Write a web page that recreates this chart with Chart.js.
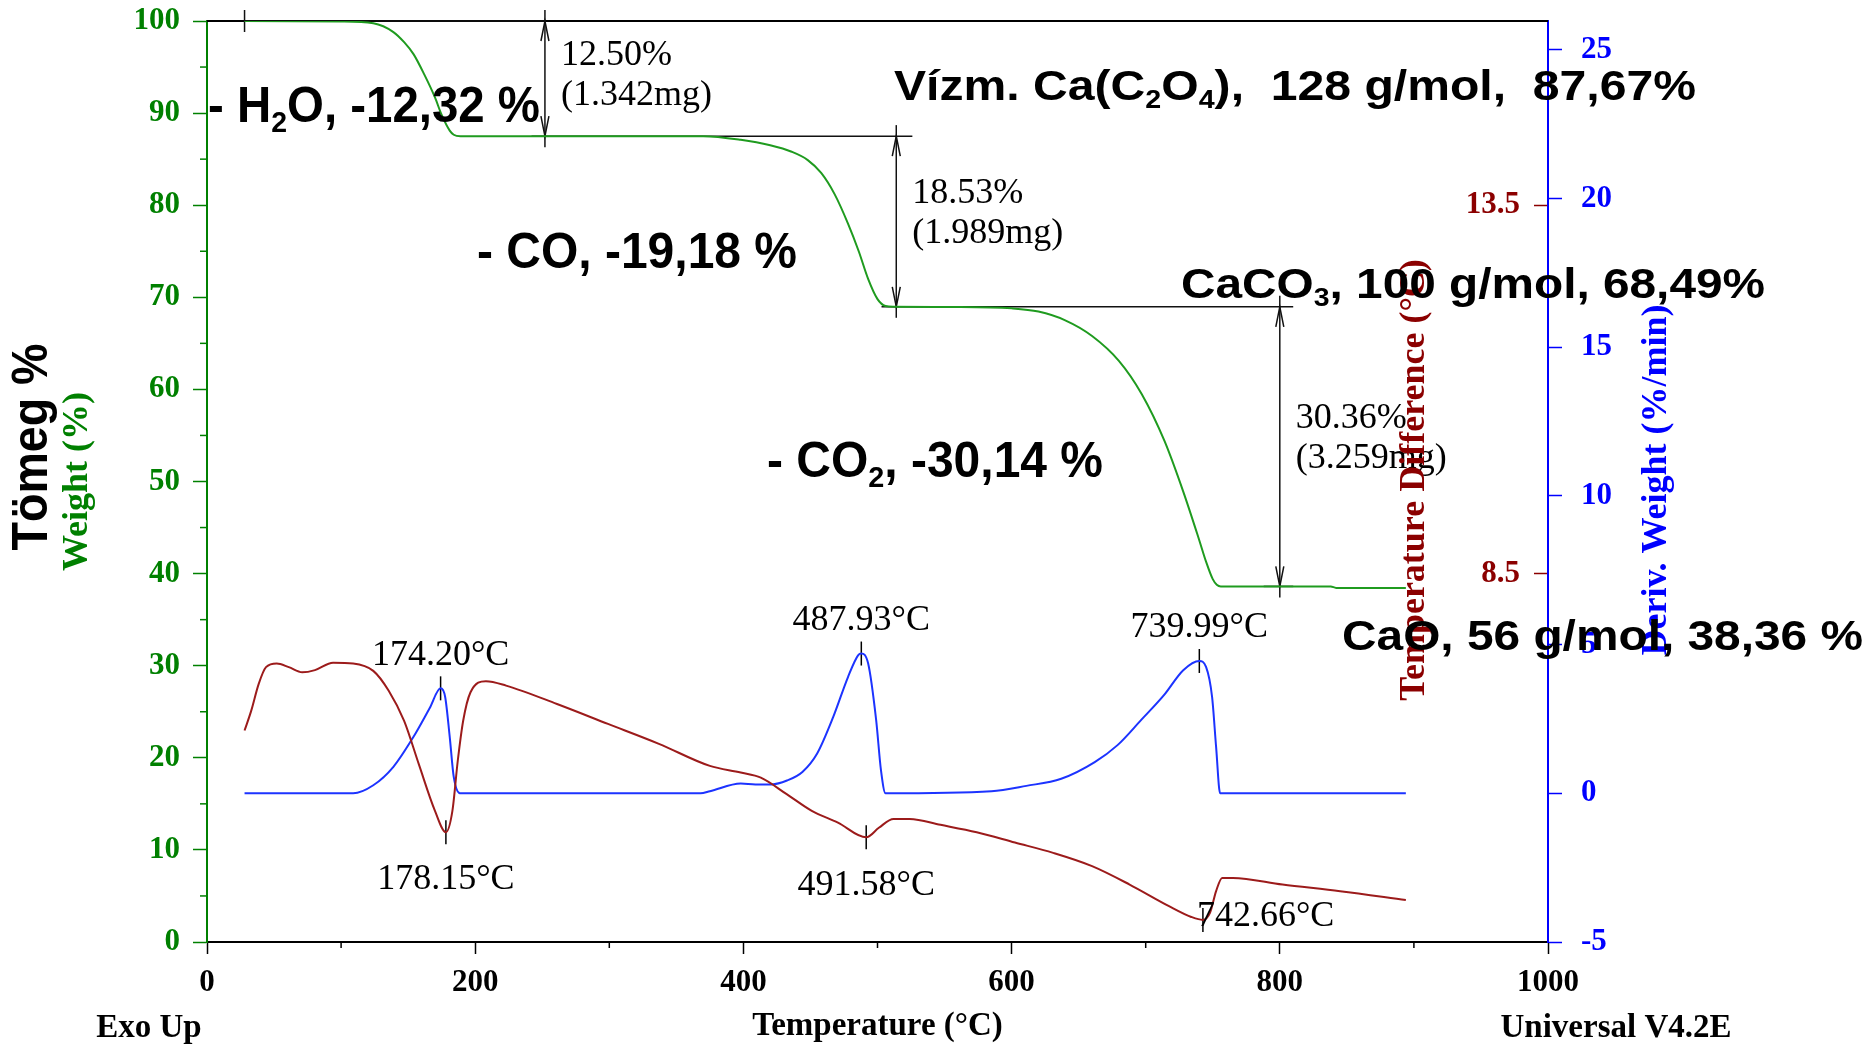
<!DOCTYPE html>
<html>
<head>
<meta charset="utf-8">
<script src="https://cdn.jsdelivr.net/npm/chart.js@4.4.1/dist/chart.umd.min.js"></script>
<style>
  html, body { margin: 0; padding: 0; background: #fff; }
</style>
</head>
<body>
<canvas id="chart" width="1870" height="1046"></canvas>
<script>
const GREEN = "#008000";
const GREEN_LINE = "#1f9b1f";
const RED = "#8b0000";
const RED_LINE = "#9c1b1b";
const BLUE = "#0000ff";
const BLUE_LINE = "#1c33ff";
const SERIF = "'Liberation Serif', 'Times New Roman', serif";
const SANS = "'Liberation Sans', Arial, sans-serif";

// TGA: temperature (°C) / weight (%)
const tgaTemp = [28, 100, 124, 139, 147, 154, 162, 170, 175, 181, 184, 189, 250, 370, 398, 420, 436, 448, 458, 468,
  478, 486, 493, 500, 506, 512, 560, 600, 620, 640, 660, 680, 697, 714, 728, 740, 745, 750, 753, 756, 838, 842, 894];
const tgaWeight = [100, 99.95, 99.75, 98.8, 97.7, 96.4, 94.2, 91.7, 89.8, 88.1, 87.65, 87.5, 87.5, 87.5, 87.1, 86.5, 85.8, 84.9, 83.5, 81.2,
  78.0, 75.0, 72.0, 69.8, 69.05, 68.97, 68.95, 68.8, 68.45, 67.5, 65.8, 63.1, 59.5, 54.4, 48.9, 43.6, 41.3, 39.4, 38.8, 38.61, 38.6, 38.45, 38.45];

// DTG: temperature (°C) / deriv. weight (%/min)
const dtgTemp = [28, 109, 124, 139, 154, 166, 174.2, 177.6, 181, 184, 188.6, 368, 375, 398, 409, 421, 432.5, 444, 455, 467,
  478, 485.5, 487.93, 493, 499, 502.6, 506, 585, 611, 637, 662, 679, 696.5, 713.6, 728, 739.99, 745, 749.5, 752.5, 755.5, 894];
const dtgRate = [0, 0, 0.27, 0.89, 1.9, 2.86, 3.53, 3.24, 1.9, 0.55, 0, 0, 0.07, 0.33, 0.3, 0.3, 0.43, 0.72, 1.34, 2.57,
  3.91, 4.64, 4.7, 4.37, 2.46, 0.77, 0, 0.07, 0.25, 0.49, 1.05, 1.62, 2.46, 3.3, 4.14, 4.45, 4.25, 3.24, 1.56, 0, 0];

// DTA: temperature (°C) / temperature difference (°C)
const dtaTemp = [28, 33, 38.5, 44, 52, 61, 71, 80.5, 94, 109, 124, 135.5, 147, 158, 170, 178.15, 183, 187, 191, 196.5,
  208, 223, 261, 299, 337, 375, 398, 413, 432, 451, 470.5, 491.58, 501, 512, 524, 547, 574, 602.5, 631, 660,
  688, 717, 734, 742.66, 748, 752.5, 757, 765, 802, 845, 894];
const dtaDiff = [6.37, 6.64, 7.0, 7.23, 7.28, 7.23, 7.16, 7.19, 7.29, 7.28, 7.18, 6.91, 6.5, 5.91, 5.28, 4.99, 5.28, 5.96, 6.5, 6.89,
  7.04, 6.98, 6.73, 6.46, 6.19, 5.89, 5.8, 5.73, 5.51, 5.28, 5.12, 4.92, 5.05, 5.17, 5.17, 5.09, 4.99, 4.85, 4.71, 4.53,
  4.28, 3.99, 3.84, 3.8, 3.9, 4.19, 4.37, 4.37, 4.28, 4.19, 4.07];

const xTicks = [0, 200, 400, 600, 800, 1000];
const xMinor = [100, 300, 500, 700, 900];
const weightMinor = [5, 15, 25, 35, 45, 55, 65, 75, 85, 95];
const dtaTicks = [8.5, 13.5];
const dtgTicks = [-5, 0, 5, 10, 15, 20, 25];

const dtgPeaks = [174.2, 487.93, 739.99];
const dtaPeaks = [178.15, 491.58, 742.66];

// step analysis: plateau levels (%), arrow positions and line spans (°C), lost mass (mg)
const stepLevels = [100, 87.5, 68.97, 38.61];
const stepArrowTemp = [252, 514, 800];
const stepLineFrom = [28, 242, 503, 788];
const stepLineTo = [252, 526, 810, 810];
const stepMass = [1.342, 1.989, 3.259];

const pairs = (xs, ys) => xs.map((x, i) => ({ x, y: ys[i] }));
const atPeak = (temps, xs, ys) => temps.map((t) => ({ x: t, y: ys[xs.indexOf(t)] }));

function strokeLine(ctx, x1, y1, x2, y2) {
  ctx.beginPath();
  ctx.moveTo(x1, y1);
  ctx.lineTo(x2, y2);
  ctx.stroke();
}

// bold sans text, odd parts are subscripts, squeezed/stretched to a given width
function richText(ctx, parts, x, y, size, width) {
  const big = `bold ${size}px ${SANS}`;
  const small = `bold ${Math.round(size * 0.6)}px ${SANS}`;
  ctx.save();
  ctx.textAlign = "left";
  ctx.textBaseline = "alphabetic";
  ctx.fillStyle = "#000";
  let natural = 0;
  parts.forEach((p, i) => {
    ctx.font = i % 2 ? small : big;
    natural += ctx.measureText(p).width;
  });
  ctx.translate(x, y);
  ctx.scale(width / natural, 1);
  let cx = 0;
  parts.forEach((p, i) => {
    ctx.font = i % 2 ? small : big;
    ctx.fillText(p, cx, i % 2 ? size * 0.2 : 0);
    cx += ctx.measureText(p).width;
  });
  ctx.restore();
}

function rotatedText(ctx, text, cx, cy, font, color, width) {
  ctx.save();
  ctx.translate(cx, cy);
  ctx.rotate(-Math.PI / 2);
  ctx.font = font;
  ctx.fillStyle = color;
  ctx.textAlign = "center";
  ctx.textBaseline = "middle";
  if (width) ctx.scale(width / ctx.measureText(text).width, 1);
  ctx.fillText(text, 0, 0);
  ctx.restore();
}

const notes = [
  { parts: ["- H", "2", "O, -12,32 %"], x: 208, y: 122, size: 50, w: 332 },
  { parts: ["- CO, -19,18 %"], x: 477, y: 268, size: 50, w: 320 },
  { parts: ["- CO", "2", ", -30,14 %"], x: 767, y: 477, size: 50, w: 336 },
  { parts: ["Vízm. Ca(C", "2", "O", "4", "),  128 g/mol,  87,67%"], x: 894, y: 100, size: 42, w: 802 },
  { parts: ["CaCO", "3", ", 100 g/mol, 68,49%"], x: 1181, y: 298, size: 42, w: 584 },
  { parts: ["CaO, 56 g/mol, 38,36 %"], x: 1342, y: 650, size: 42, w: 521 },
];

const frameAndSteps = {
  id: "frameAndSteps",
  beforeDatasetsDraw(chart) {
    const { ctx, chartArea, scales: { x, y } } = chart;
    ctx.save();
    ctx.strokeStyle = "#000";
    ctx.lineWidth = 2;
    strokeLine(ctx, chartArea.left, chartArea.top, chartArea.right, chartArea.top);

    ctx.lineWidth = 1.5;
    ctx.strokeStyle = "#111";
    stepLevels.forEach((lv, i) => {
      const py = y.getPixelForValue(lv);
      strokeLine(ctx, x.getPixelForValue(stepLineFrom[i]), py, x.getPixelForValue(stepLineTo[i]), py);
    });
    const sx = x.getPixelForValue(stepLineFrom[0]);
    const sy = y.getPixelForValue(stepLevels[0]);
    strokeLine(ctx, sx, sy - 11, sx, sy + 11);

    stepArrowTemp.forEach((t, i) => {
      const px = x.getPixelForValue(t);
      const top = y.getPixelForValue(stepLevels[i]);
      const bot = y.getPixelForValue(stepLevels[i + 1]);
      strokeLine(ctx, px, top - 11, px, bot + 11);
      ctx.beginPath();
      ctx.moveTo(px - 4, top + 20);
      ctx.lineTo(px, top);
      ctx.lineTo(px + 4, top + 20);
      ctx.moveTo(px - 4, bot - 20);
      ctx.lineTo(px, bot);
      ctx.lineTo(px + 4, bot - 20);
      ctx.stroke();
    });

    // minor ticks
    ctx.strokeStyle = "#000";
    xMinor.forEach((v) => {
      const px = x.getPixelForValue(v);
      strokeLine(ctx, px, x.top, px, x.top + 6);
    });
    ctx.strokeStyle = GREEN;
    weightMinor.forEach((v) => {
      const py = y.getPixelForValue(v);
      strokeLine(ctx, y.right - 7, py, y.right, py);
    });
    ctx.restore();
  },
  afterDraw(chart) {
    const { ctx, scales: { x, y, yB, yR } } = chart;
    ctx.save();
    ctx.fillStyle = "#000";
    ctx.font = `36px ${SERIF}`;
    ctx.textBaseline = "middle";

    // step values
    ctx.textAlign = "left";
    stepArrowTemp.forEach((t, i) => {
      const px = x.getPixelForValue(t) + 16;
      const top = y.getPixelForValue(stepLevels[i]);
      const mid = (top + y.getPixelForValue(stepLevels[i + 1])) / 2;
      const first = Math.max(mid - 28, top + 35);
      ctx.fillText(`${(stepLevels[i] - stepLevels[i + 1]).toFixed(2)}%`, px, first);
      ctx.fillText(`(${stepMass[i].toFixed(3)}mg)`, px, first + 40);
    });

    // peak temperatures
    ctx.textAlign = "center";
    atPeak(dtgPeaks, dtgTemp, dtgRate).forEach((p) => {
      ctx.fillText(`${p.x.toFixed(2)}°C`, x.getPixelForValue(p.x), yB.getPixelForValue(p.y) - 33);
    });
    const dtaPlace = [[0, 47, "center"], [0, 48, "center"], [-6, -3, "left"]];
    atPeak(dtaPeaks, dtaTemp, dtaDiff).forEach((p, i) => {
      const [dx, dy, align] = dtaPlace[i];
      ctx.textAlign = align;
      ctx.fillText(`${p.x.toFixed(2)}°C`, x.getPixelForValue(p.x) + dx, yR.getPixelForValue(p.y) + dy);
    });

    // footer labels
    ctx.font = `bold 33px ${SERIF}`;
    ctx.textAlign = "center";
    ctx.fillText("Exo Up", 149, 1028);
    ctx.fillText("Universal V4.2E", 1616, 1028);

    // axis titles drawn by hand (reading bottom to top)
    rotatedText(ctx, "Temperature Difference (°C)", 1415, 480, `bold 36px ${SERIF}`, RED);
    rotatedText(ctx, "Deriv. Weight (%/min)", 1657, 480, `bold 36px ${SERIF}`, BLUE);
    rotatedText(ctx, "Tömeg %", 33, 447, `bold 50px ${SANS}`, "#000", 207);

    notes.forEach((n) => richText(ctx, n.parts, n.x, n.y, n.size, n.w));
    ctx.restore();
  },
};

const tickFont = { family: SERIF, size: 31, weight: "bold" };
const noEdgePadding = (s) => { s.paddingTop = 0; s.paddingBottom = 0; };

new Chart(document.getElementById("chart"), {
  type: "line",
  data: {
    datasets: [
      {
        data: pairs(tgaTemp, tgaWeight),
        yAxisID: "y",
        borderColor: GREEN_LINE,
        borderWidth: 2,
        pointRadius: 0,
        cubicInterpolationMode: "monotone",
      },
      {
        data: pairs(dtaTemp, dtaDiff),
        yAxisID: "yR",
        borderColor: RED_LINE,
        borderWidth: 2,
        pointRadius: 0,
        cubicInterpolationMode: "monotone",
      },
      {
        data: pairs(dtgTemp, dtgRate),
        yAxisID: "yB",
        borderColor: BLUE_LINE,
        borderWidth: 2,
        pointRadius: 0,
        cubicInterpolationMode: "monotone",
      },
      {
        data: atPeak(dtgPeaks, dtgTemp, dtgRate),
        yAxisID: "yB",
        showLine: false,
        pointStyle: "line",
        rotation: 90,
        pointRadius: 12,
        borderColor: "#000",
        borderWidth: 1.5,
      },
      {
        data: atPeak(dtaPeaks, dtaTemp, dtaDiff),
        yAxisID: "yR",
        showLine: false,
        pointStyle: "line",
        rotation: 90,
        pointRadius: 12,
        borderColor: "#000",
        borderWidth: 1.5,
      },
    ],
  },
  options: {
    responsive: false,
    animation: false,
    layout: { padding: { top: 21, left: 0, right: 0, bottom: 0 } },
    plugins: { legend: { display: false }, tooltip: { enabled: false } },
    scales: {
      x: {
        type: "linear",
        position: "bottom",
        min: 0,
        max: 1000,
        afterBuildTicks: (s) => { s.ticks = xTicks.map((v) => ({ value: v })); },
        afterFit: (s) => { s.height = 104; },
        grid: { drawOnChartArea: false, tickLength: 12, tickColor: "#000", tickWidth: 1.5 },
        border: { color: "#000", width: 2 },
        ticks: { font: tickFont, color: "#000", padding: 10, maxRotation: 0, autoSkip: false, callback: (v) => String(v) },
        title: { display: true, text: "Temperature (°C)", color: "#000", font: { family: SERIF, size: 33, weight: "bold" }, padding: 0 },
      },
      y: {
        position: "left",
        min: 0,
        max: 100,
        ticks: { stepSize: 10, font: tickFont, color: GREEN, padding: 13, callback: (v) => String(v) },
        afterFit: (s) => { s.width = 207; noEdgePadding(s); },
        grid: { drawOnChartArea: false, tickLength: 14, tickColor: GREEN, tickWidth: 1.5 },
        border: { color: GREEN, width: 2 },
        title: { display: true, text: "Weight (%)", color: GREEN, font: { family: SERIF, size: 36, weight: "bold" }, padding: { top: 56, bottom: 0 } },
      },
      yR: {
        position: "right",
        weight: 0,
        min: 3.5,
        max: 16,
        afterBuildTicks: (s) => { s.ticks = dtaTicks.map((v) => ({ value: v })); },
        afterFit: (s) => { s.width = 0; noEdgePadding(s); },
        grid: { drawOnChartArea: false, tickLength: -14, tickColor: RED, tickWidth: 1.5 },
        border: { display: false },
        ticks: { mirror: true, padding: -28, font: tickFont, color: RED, autoSkip: false, callback: (v) => v.toFixed(1) },
      },
      yB: {
        position: "right",
        weight: 1,
        min: -5,
        max: 25.97,
        afterBuildTicks: (s) => { s.ticks = dtgTicks.map((v) => ({ value: v })); },
        afterFit: (s) => { s.width = 322; noEdgePadding(s); },
        grid: { drawOnChartArea: false, tickLength: 14, tickColor: BLUE, tickWidth: 1.5 },
        border: { color: BLUE, width: 2 },
        ticks: { padding: 19, font: tickFont, color: BLUE, autoSkip: false, callback: (v) => String(v) },
      },
    },
  },
  plugins: [frameAndSteps],
});
</script>
</body>
</html>
